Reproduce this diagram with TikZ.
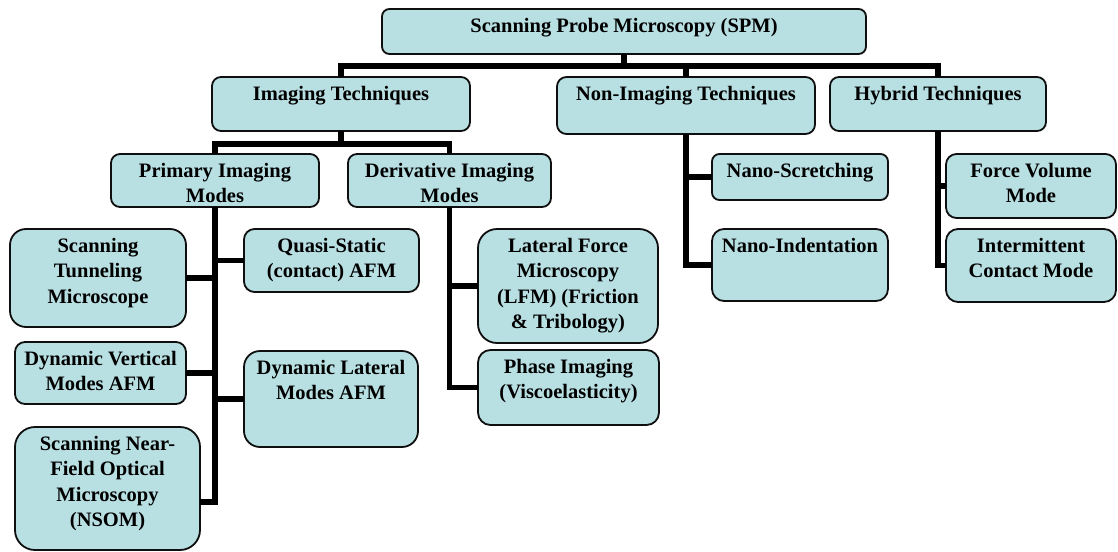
\documentclass[tikz,border=0pt]{standalone}
\usepackage{fontspec}
\setmainfont{Liberation Serif}
\definecolor{boxfill}{RGB}{184,223,226}
\definecolor{boxline}{RGB}{15,15,15}
\begin{document}
\begin{tikzpicture}[x=1pt,y=-1pt,
  box/.style={draw=boxline, line width=1.8pt, fill=boxfill, inner sep=0pt, outer sep=0pt, rectangle},
  txt/.style={anchor=north, inner sep=0pt, align=center, font=\fontsize{20.5}{25.3}\selectfont\bfseries},
  conn/.style={line width=5.3pt, draw=black}]
\useasboundingbox (0,0) rectangle (1118,551);

\coordinate (b1) at (0,66);
\coordinate (b2) at (0,144);

% boxes
\node[box, rounded corners=7.5pt, minimum width=484pt, minimum height=45pt] (spm) at (624,31.5) {};
\node[box, rounded corners=9pt, minimum width=258pt, minimum height=54pt] (img) at (341,104) {};
\node[box, rounded corners=9.5pt, minimum width=258pt, minimum height=57pt] (non) at (686,105.5) {};
\node[box, rounded corners=9pt, minimum width=216pt, minimum height=54pt] (hyb) at (938,104) {};
\node[box, rounded corners=9pt, minimum width=208pt, minimum height=53pt] (pri) at (215,180.5) {};
\node[box, rounded corners=9pt, minimum width=203pt, minimum height=53pt] (der) at (449.5,180.5) {};
\node[box, rounded corners=16pt, minimum width=176pt, minimum height=98pt] (stm) at (98,278) {};
\node[box, rounded corners=10.5pt, minimum width=175pt, minimum height=63pt] (qsa) at (331.5,260.5) {};
\node[box, rounded corners=10pt, minimum width=171pt, minimum height=62pt] (dvm) at (100.5,373) {};
\node[box, rounded corners=16pt, minimum width=174pt, minimum height=96pt] (dlm) at (331,399) {};
\node[box, rounded corners=20pt, minimum width=185pt, minimum height=123pt] (snom) at (107.5,488.5) {};
\node[box, rounded corners=19pt, minimum width=180pt, minimum height=114pt] (lfm) at (568,286) {};
\node[box, rounded corners=12.5pt, minimum width=181pt, minimum height=75pt] (pha) at (568.5,387.5) {};
\node[box, rounded corners=7.5pt, minimum width=176pt, minimum height=46pt] (nsc) at (800,177) {};
\node[box, rounded corners=12pt, minimum width=176pt, minimum height=72pt] (nin) at (800,265) {};
\node[box, rounded corners=10.5pt, minimum width=170pt, minimum height=64pt] (fvm) at (1031,186) {};
\node[box, rounded corners=12pt, minimum width=170pt, minimum height=73pt] (icm) at (1031,265.5) {};

% connectors
\draw[conn] (spm.south) -- (spm.south |- b1) -| (img.north);
\draw[conn] (spm.south) -- (spm.south |- b1) -| (non.north);
\draw[conn] (spm.south) -- (spm.south |- b1) -| (hyb.north);
\draw[conn] (img.south) -- (img.south |- b2) -| (pri.north);
\draw[conn] (img.south) -- (img.south |- b2) -| (der.north);
\draw[conn] (pri.south) |- (stm.east);
\draw[conn] (pri.south) |- (qsa.west);
\draw[conn] (pri.south) |- (dvm.east);
\draw[conn] (pri.south) |- (dlm.west);
\draw[conn] (pri.south) |- ([yshift=-13.5pt]snom.east);
\draw[conn] (der.south) |- (lfm.west);
\draw[conn] (der.south) |- (pha.west);
\draw[conn] (non.south) |- (nsc.west);
\draw[conn] (non.south) |- (nin.west);
\draw[conn] (hyb.south) |- (fvm.west);
\draw[conn] (hyb.south) |- (icm.west);

% texts
\node[txt] (tspm) at ([yshift=-5.5pt]spm.north) {\strut Scanning Probe Microscopy (SPM)};
\node[txt] (timg) at ([yshift=-5.5pt]img.north) {\strut Imaging Techniques};
\node[txt] (tnon) at ([yshift=-5.5pt]non.north) {\strut Non-Imaging Techniques};
\node[txt] (thyb) at ([yshift=-5.5pt]hyb.north) {\strut Hybrid Techniques};
\node[txt] (tpri) at ([yshift=-5.5pt]pri.north) {\strut Primary Imaging\\Modes};
\node[txt] (tder) at ([yshift=-5.5pt]der.north) {\strut Derivative Imaging\\Modes};
\node[txt] (tstm) at ([yshift=-5.5pt]stm.north) {\strut Scanning\\Tunneling\\Microscope};
\node[txt] (tqsa) at ([yshift=-5.5pt]qsa.north) {\strut Quasi-Static\\(contact) AFM};
\node[txt] (tdvm) at ([yshift=-5.5pt]dvm.north) {\strut Dynamic Vertical\\Modes AFM};
\node[txt] (tdlm) at ([yshift=-5.5pt]dlm.north) {\strut Dynamic Lateral\\Modes AFM};
\node[txt] (tsnom) at ([yshift=-5.5pt]snom.north) {\strut Scanning Near-\\Field Optical\\Microscopy\\(NSOM)};
\node[txt] (tlfm) at ([yshift=-5.5pt]lfm.north) {\strut Lateral Force\\Microscopy\\(LFM) (Friction\\\& Tribology)};
\node[txt] (tpha) at ([yshift=-5.5pt]pha.north) {\strut Phase Imaging\\(Viscoelasticity)};
\node[txt] (tnsc) at ([yshift=-5.5pt]nsc.north) {\strut Nano-Scretching};
\node[txt] (tnin) at ([yshift=-5.5pt]nin.north) {\strut Nano-Indentation};
\node[txt] (tfvm) at ([yshift=-5.5pt]fvm.north) {\strut Force Volume\\Mode};
\node[txt] (ticm) at ([yshift=-5.5pt]icm.north) {\strut Intermittent\\Contact Mode};
\end{tikzpicture}
\end{document}
